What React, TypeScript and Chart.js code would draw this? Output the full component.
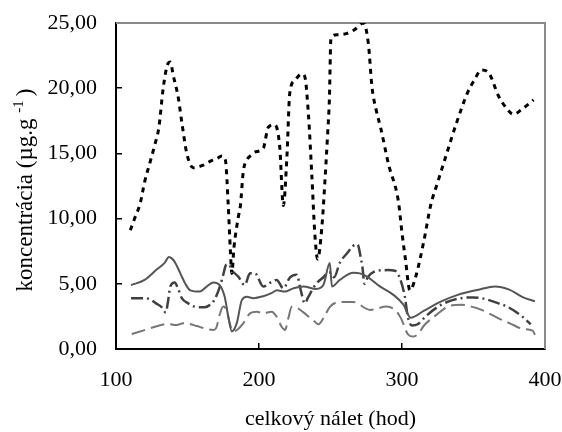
import { useEffect, useRef } from 'react';
import { Chart, registerables } from 'chart.js';

Chart.register(...registerables);

const FONT = "'Liberation Serif', 'Times New Roman', serif";

// ---- data (hours of flight vs. concentration) ----
const dottedHours = [110, 113, 117, 120, 124, 127, 130, 133, 136, 138, 140, 143.5, 146, 149.5, 154, 161, 166, 170.5, 174, 176.5, 178.5, 180, 181, 182.5, 185.5, 187, 189, 191.5, 195, 197, 203, 206.5, 211, 214.5, 217, 219.5, 221.5, 225, 230, 232, 234.5, 237, 239, 241, 244, 246, 248, 249.2, 250.3, 254.5, 261.5, 267, 273, 276.5, 279, 282, 285, 290.5, 297.5, 300, 302.5, 305.5, 309.5, 315.5, 320, 325, 331, 338, 346, 350.5, 355.5, 360.5, 367.5, 373.5, 378, 384, 392];
const dottedConc = [9.1, 10.0, 11.2, 12.8, 14.4, 15.6, 17.0, 20.0, 21.8, 22.0, 21.0, 19.3, 17.4, 15.0, 13.9, 14.1, 14.4, 14.6, 14.8, 14.5, 11.0, 7.5, 5.8, 7.8, 10.1, 11.0, 13.6, 14.5, 14.9, 15.1, 15.4, 17.0, 17.2, 15.5, 11.0, 14.7, 19.6, 20.6, 21.1, 20.9, 18.1, 13.2, 8.9, 6.9, 9.4, 12.7, 16.5, 19.1, 23.8, 24.1, 24.2, 24.5, 25.0, 23.4, 20.1, 18.3, 17.0, 14.2, 11.3, 8.9, 6.8, 4.5, 5.5, 8.4, 11.0, 12.8, 14.9, 17.3, 19.7, 20.6, 21.4, 21.2, 19.4, 18.4, 18.0, 18.4, 19.1];

const solidHours = [110.5, 120, 128, 134, 137, 139, 141.5, 145, 148.5, 152, 158.5, 163, 168, 172.5, 176, 178.5, 181, 184.5, 188, 191.5, 196, 203, 209, 212.5, 218, 224, 231, 240, 245, 249.5, 251, 256.5, 266, 270.5, 275.5, 284.5, 294, 301, 306, 315.5, 327.5, 339, 353.5, 365, 375, 384, 393];
const solidConc = [4.9, 5.3, 6.05, 6.6, 7.05, 6.95, 6.6, 5.8, 5.0, 4.5, 4.4, 4.75, 5.1, 4.9, 4.0, 2.5, 1.35, 2.0, 3.75, 4.0, 3.9, 4.05, 4.3, 4.5, 4.4, 4.65, 4.8, 4.6, 4.9, 6.6, 4.8, 5.3, 5.85, 5.8, 5.55, 4.8, 4.15, 3.4, 2.4, 2.95, 3.65, 4.15, 4.55, 4.8, 4.55, 4.0, 3.65];

const dashDotHours = [110.5, 120, 124, 128, 132, 134.8, 136.3, 138, 141, 143.5, 146, 150.5, 155, 162, 166, 169, 172.7, 175, 177, 179, 181, 185.5, 190, 193.7, 197.2, 203, 209, 212.4, 217, 221.7, 226.4, 229, 232, 234.5, 240, 245, 249, 252.5, 256.5, 262, 265, 267, 269, 271, 272.3, 273.8, 276, 280, 290, 295, 297.5, 302, 304, 307, 311, 316.5, 327.5, 341.5, 349.5, 355.5, 367.5, 373.5, 384, 390];
const dashDotConc = [3.9, 3.9, 3.8, 3.5, 3.2, 2.8, 3.6, 4.8, 5.1, 4.6, 3.9, 3.5, 3.25, 3.2, 3.4, 3.8, 4.8, 5.7, 6.45, 6.5, 6.05, 5.55, 4.9, 5.8, 5.8, 4.8, 5.15, 5.3, 4.65, 5.5, 5.7, 4.6, 3.5, 4.0, 5.0, 5.5, 5.9, 5.5, 6.6, 7.4, 7.8, 8.0, 8.0, 7.1, 6.3, 5.0, 5.5, 5.9, 6.05, 6.0, 5.7, 4.0, 2.5, 1.8, 1.9, 2.5, 3.4, 3.9, 3.95, 3.9, 3.5, 3.25, 2.5, 1.9];

const grayHours = [111, 120, 128.5, 135.5, 142.5, 147, 151.5, 156.5, 162, 168, 170, 172.7, 175, 177.5, 179.5, 181.5, 185, 189, 193.7, 198.4, 203, 208.8, 212.3, 215.8, 218.2, 220.5, 223, 227.5, 233.4, 238, 241.5, 246.2, 249.7, 256.7, 260.2, 266, 277.7, 289.3, 295, 299.3, 304, 307.6, 311.2, 315.4, 323.8, 332, 341.5, 348.6, 355.7, 367.5, 375.8, 384.2, 391.3, 393];
const grayConc = [1.15, 1.45, 1.75, 1.92, 1.84, 1.97, 1.92, 1.76, 1.58, 1.46, 1.6, 2.7, 3.25, 2.9, 2.0, 1.35, 1.5, 1.97, 2.73, 2.86, 2.73, 2.86, 2.48, 1.71, 1.46, 2.36, 3.25, 3.1, 2.6, 2.2, 1.9, 2.6, 3.25, 3.6, 3.6, 3.6, 3.0, 3.25, 3.0, 2.35, 1.15, 0.95, 1.15, 1.8, 2.6, 3.25, 3.4, 3.25, 3.0, 2.35, 1.95, 1.55, 1.4, 1.1];

const xTitle = 'celkový nálet (hod)';
const yTitleMain = 'koncentrácia (µg.g ';
const yTitleSup = '-1';
const yTitleEnd = ')';

const pts = (xs: number[], ys: number[]) => xs.map((x, i) => ({ x, y: ys[i] }));

const framePlugin = {
  id: 'frameAndTitle',
  beforeDatasetsDraw(chart: any) {
    const { ctx, chartArea } = chart;
    const { left, right, top, bottom } = chartArea;
    ctx.save();
    ctx.strokeStyle = '#8a8a8a';
    ctx.lineWidth = 2;
    ctx.beginPath();
    ctx.moveTo(left, top);
    ctx.lineTo(right, top);
    ctx.lineTo(right, bottom);
    ctx.stroke();
    ctx.restore();
  },
  afterDraw(chart: any) {
    const { ctx, chartArea } = chart;
    const cy = (chartArea.top + chartArea.bottom) / 2 + 4;
    const cx = 26;
    ctx.save();
    ctx.translate(cx, cy);
    ctx.rotate(-Math.PI / 2);
    ctx.fillStyle = '#000';
    ctx.textBaseline = 'middle';
    ctx.textAlign = 'left';
    const mainFont = `23px ${FONT}`;
    const supFont = `15px ${FONT}`;
    ctx.font = mainFont;
    const w1 = ctx.measureText(yTitleMain).width;
    const w3 = ctx.measureText(yTitleEnd).width;
    ctx.font = supFont;
    const w2 = ctx.measureText(yTitleSup).width;
    const gap = 4;
    const total = w1 + w2 + gap + w3;
    let x = -total / 2;
    ctx.font = mainFont;
    ctx.fillText(yTitleMain, x, 0);
    x += w1;
    ctx.font = supFont;
    ctx.fillText(yTitleSup, x, -7);
    x += w2 + gap;
    ctx.font = mainFont;
    ctx.fillText(yTitleEnd, x, 0);
    ctx.restore();
  },
};

const zeroPad = (s: any) => {
  s.paddingTop = 0;
  s.paddingBottom = 0;
  s.paddingLeft = 0;
  s.paddingRight = 0;
};

export default function App() {
  const ref = useRef<HTMLCanvasElement>(null);
  useEffect(() => {
    document.body.style.margin = '0';
    const canvas = ref.current;
    if (!canvas) return;
    const common = {
      pointRadius: 0,
      fill: false,
      cubicInterpolationMode: 'monotone' as const,
      borderCapStyle: 'butt' as const,
    };
    const chart = new Chart(canvas, {
      type: 'line',
      data: {
        datasets: [
          {
            ...common,
            label: 'A',
            data: pts(dottedHours, dottedConc),
            borderColor: '#000000',
            borderWidth: 3,
            borderDash: [5, 5],
          },
          {
            ...common,
            label: 'B',
            data: pts(solidHours, solidConc),
            borderColor: '#555555',
            borderWidth: 2,
          },
          {
            ...common,
            label: 'C',
            data: pts(dashDotHours, dashDotConc),
            borderColor: '#404040',
            borderWidth: 2.5,
            borderDash: [12, 4, 2, 4],
          },
          {
            ...common,
            label: 'D',
            data: pts(grayHours, grayConc),
            borderColor: '#767676',
            borderWidth: 2,
            borderDash: [14, 6],
          },
        ],
      },
      options: {
        animation: false,
        responsive: true,
        maintainAspectRatio: false,
        layout: { padding: { top: 23, right: 17, left: 0, bottom: 0 } },
        plugins: {
          legend: { display: false },
          tooltip: { enabled: false },
        },
        scales: {
          x: {
            type: 'linear',
            min: 100,
            max: 400,
            afterFit: (s: any) => {
              s.height = 83;
              zeroPad(s);
            },
            ticks: {
              stepSize: 100,
              color: '#000',
              padding: 24,
              maxRotation: 0,
              font: { family: FONT, size: 22 },
            },
            grid: {
              drawOnChartArea: false,
              drawTicks: true,
              tickLength: -6,
              color: '#000',
              lineWidth: 1.5,
            },
            border: { color: '#000', width: 2 },
            title: {
              display: true,
              text: xTitle,
              color: '#000',
              font: { family: FONT, size: 22 },
              padding: { top: 0, bottom: 0 },
            },
          },
          y: {
            type: 'linear',
            min: 0,
            max: 25,
            afterFit: (s: any) => {
              s.width = 116;
              zeroPad(s);
            },
            ticks: {
              stepSize: 5,
              color: '#000',
              padding: 25,
              font: { family: FONT, size: 22 },
              callback: (v: any) => Number(v).toFixed(2).replace('.', ','),
            },
            grid: {
              drawOnChartArea: false,
              drawTicks: true,
              tickLength: -6,
              color: '#000',
              lineWidth: 1.5,
            },
            border: { color: '#000', width: 2 },
          },
        },
      },
      plugins: [framePlugin],
    });
    return () => chart.destroy();
  }, []);
  return (
    <div style={{ position: 'absolute', left: 0, top: 0, width: 562, height: 432 }}>
      <canvas ref={ref} />
    </div>
  );
}
